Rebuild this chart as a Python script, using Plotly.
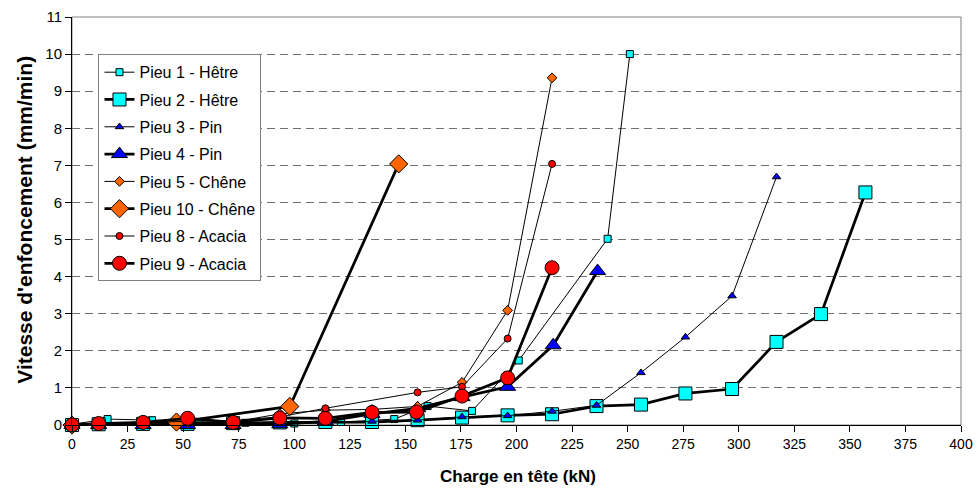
import plotly.graph_objects as go

FONT = "Liberation Sans, Arial, sans-serif"

# ---- data (load in kN, penetration speed in mm/min) ----
p1_x = [0, 16, 36, 57, 78, 100, 121, 145, 160, 180, 201, 241, 251]
p1_y = [0.02, 0.16, 0.13, 0.08, 0.06, 0.04, 0.08, 0.16, 0.51, 0.38, 1.74, 5.02, 10.0]

p2_x = [0, 12, 32, 52, 72.5, 93.5, 114, 135, 155.5, 175.5, 196, 216, 236, 256, 276, 297, 317, 337, 357]
p2_y = [0, 0.02, 0.03, 0.03, 0.05, 0.07, 0.08, 0.08, 0.13, 0.2, 0.26, 0.29, 0.51, 0.55, 0.85, 0.97, 2.24, 2.99, 6.27]

p3_x = [0, 12, 32, 52, 72.5, 93.5, 114, 135, 155.5, 175.5, 196, 216, 236, 256, 276, 297, 317]
p3_y = [0, 0.01, 0.02, 0.02, 0.03, 0.05, 0.06, 0.1, 0.13, 0.22, 0.25, 0.37, 0.53, 1.41, 2.37, 3.48, 6.69]

p4_x = [0, 12, 32, 52, 72.5, 93.5, 114, 135, 155.5, 175.5, 196, 216.5, 236.5]
p4_y = [0, 0.0, 0.0, 0.0, 0.0, 0.02, 0.1, 0.3, 0.45, 0.75, 1.03, 2.15, 4.15]

p5_x = [0, 12, 32, 52, 72.5, 93.5, 114, 135, 155.5, 175.5, 196, 216]
p5_y = [0, 0.02, 0.04, 0.06, 0.08, 0.3, 0.4, 0.42, 0.5, 1.15, 3.09, 9.36]

p10_x = [0, 47, 98, 147]
p10_y = [0, 0.08, 0.5, 7.04]

p8_x = [0, 12, 32, 52, 72.5, 93.5, 114, 155.5, 175.5, 196, 216]
p8_y = [0, 0.03, 0.06, 0.1, 0.12, 0.22, 0.45, 0.88, 1.03, 2.33, 7.04]

p9_x = [0, 12, 32, 52, 72.5, 93.5, 114, 135, 155, 175.5, 196, 216]
p9_y = [0, 0.04, 0.07, 0.18, 0.07, 0.19, 0.18, 0.34, 0.35, 0.78, 1.27, 4.24]

x_ticks = [0, 25, 50, 75, 100, 125, 150, 175, 200, 225, 250, 275, 300, 325, 350, 375, 400]
y_ticks = [0, 1, 2, 3, 4, 5, 6, 7, 8, 9, 10, 11]

series = [
    ("Pieu 1 - Hêtre", p1_x, p1_y, "square", "#00FFFF", 7, 1),
    ("Pieu 2 - Hêtre", p2_x, p2_y, "square", "#00FFFF", 13, 2.75),
    ("Pieu 3 - Pin", p3_x, p3_y, "triangle-up", "#0000FF", 7.5, 1),
    ("Pieu 4 - Pin", p4_x, p4_y, "triangle-up", "#0000FF", 14, 2.75),
    ("Pieu 5 - Chêne", p5_x, p5_y, "diamond", "#FF6600", 7.5, 1),
    ("Pieu 10 - Chêne", p10_x, p10_y, "diamond", "#FF6600", 14, 2.75),
    ("Pieu 8 - Acacia", p8_x, p8_y, "circle", "#FF0000", 7, 1),
    ("Pieu 9 - Acacia", p9_x, p9_y, "circle", "#FF0000", 14, 2.75),
]

fig = go.Figure()
for i, (name, xs, ys, sym, col, msize, lw) in enumerate(series):
    fig.add_trace(go.Scatter(
        x=xs, y=ys, name=name, mode="lines+markers",
        legendgroup=f"g{i}",
        line=dict(color="#000000", width=lw),
        marker=dict(symbol=sym, size=msize, color=col,
                    line=dict(color="#000000", width=1)),
        cliponaxis=False,
    ))

fig.update_layout(
    width=978, height=488,
    margin=dict(l=71.5, r=17, t=16.7, b=63.2, autoexpand=False),
    paper_bgcolor="white", plot_bgcolor="white",
    font=dict(family=FONT, color="#000000", size=14),
    showlegend=True,
    legend=dict(
        x=0.0298, y=0.9086, xanchor="left", yanchor="top",
        bgcolor="white", bordercolor="#808080", borderwidth=1,
        font=dict(family=FONT, size=16, color="#000000"),
        tracegroupgap=3.5,
    ),
    shapes=[dict(type="rect", xref="paper", yref="paper", x0=0, y0=0, x1=1, y1=1,
                 line=dict(color="#808080", width=1), layer="below")],
    annotations=[
        dict(text="<b>Vitesse d'enfoncement (mm/min)</b>", xref="paper", yref="paper",
             x=-0.0534, y=0.502, xanchor="center", yanchor="middle", textangle=-90,
             showarrow=False, font=dict(family=FONT, size=21, color="#000000")),
        dict(text="<b>Charge en tête (kN)</b>", xref="paper", yref="paper",
             x=0.5014, y=-0.1255, xanchor="center", yanchor="middle",
             showarrow=False, font=dict(family=FONT, size=17, color="#000000")),
    ],
)

fig.update_xaxes(
    range=[0, 400], tickmode="array", tickvals=x_ticks,
    ticktext=[str(v) for v in x_ticks],
    showline=True, linecolor="#000000", linewidth=1,
    ticks="outside", ticklen=6, tickcolor="#000000",
    showgrid=False, zeroline=False, automargin=False,
    tickfont=dict(family=FONT, size=14),
)
fig.update_yaxes(
    range=[0, 11], tickmode="array", tickvals=y_ticks,
    ticktext=[str(v) for v in y_ticks],
    showline=True, linecolor="#000000", linewidth=1,
    ticks="outside", ticklen=6, tickcolor="#000000",
    showgrid=True, gridcolor="#707070", gridwidth=1, griddash="8px,5px",
    zeroline=False, automargin=False,
    tickfont=dict(family=FONT, size=15),
)

fig.write_html("out.html", config={"displayModeBar": False},
               post_script="document.body.style.margin='0';document.body.style.overflow='hidden';")
